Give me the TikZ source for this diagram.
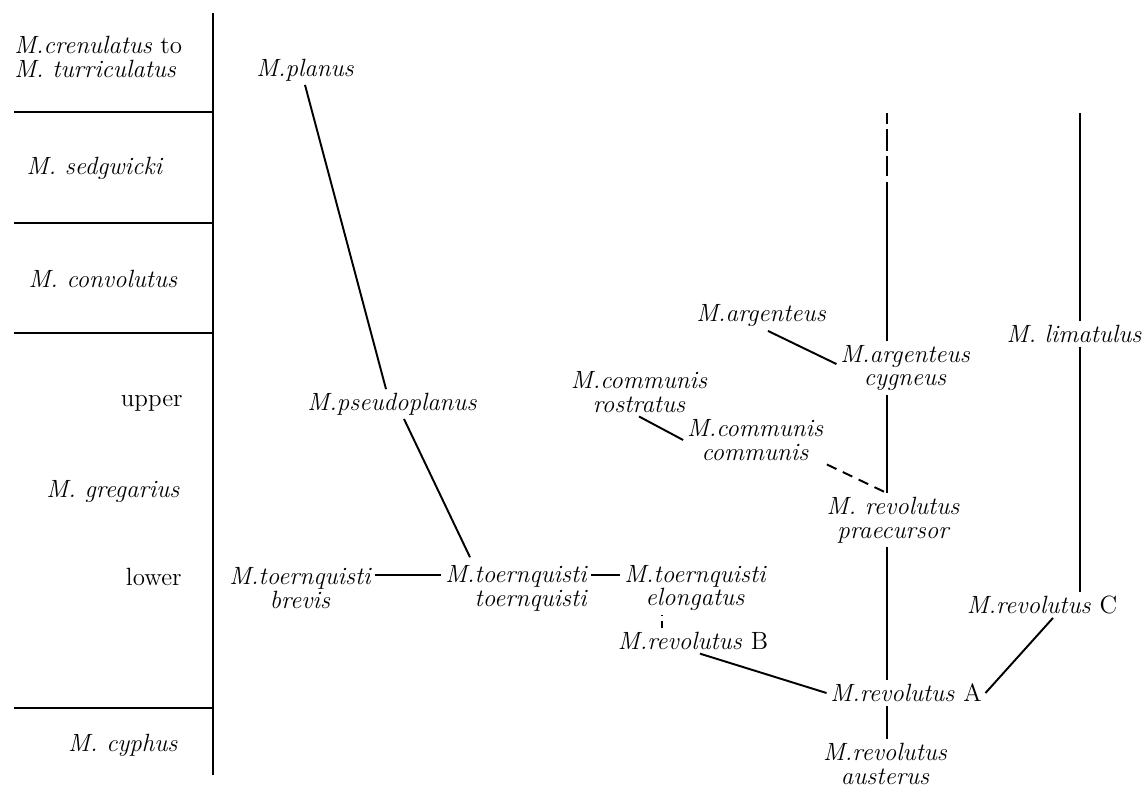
\documentclass[tikz,border=0pt]{standalone}
\usetikzlibrary{positioning,calc}
\begin{document}
\begin{tikzpicture}[x=0.02cm, y=-0.02cm]
    \tikzset{taxon/.style={font=\fontsize{14.2}{13.6}\selectfont\itshape, inner sep=2pt, align=center}}
    \tikzset{zone/.style={font=\fontsize{14.2}{13.6}\selectfont, inner sep=0pt, align=left}}
    \tikzset{link/.style={line width=1.1pt}}
    \tikzset{guess/.style={line width=1.1pt, dash pattern=on 6pt off 4pt}}

    \useasboundingbox (0,0) rectangle (1142,788);

    % Zone column
    \draw[link] (213,13) -- (213,775);
    \foreach \y in {112,223,333,708} \draw[link] (14,\y) -- (213,\y);
    \node[zone, anchor=west] (crenulatus) at (14,57) {\textit{M.crenulatus} to\\\textit{M. turriculatus}};
    \node[zone] (sedgwicki) at (95,168) {\textit{M. sedgwicki}};
    \node[zone] (convolutus) at (103,279) {\textit{M. convolutus}};
    \node[zone, anchor=east] (upper) at (183,403) {upper};
    \node[zone, anchor=east] (gregarius) at (180,492) {\textit{M. gregarius}};
    \node[zone, anchor=east] (lower) at (182,577) {lower};
    \node[zone, anchor=east] (cyphus) at (178,745) {\textit{M. cyphus}};

    % Planus line
    \node[taxon] (planus) at (305,70) {M.planus};
    \node[taxon] (pseudo) at (392,404) {M.pseudoplanus};
    \node[taxon] (brevis) at (300,588) {M.toernquisti\\brevis};
    \node[taxon, align=right] (tt) at (516,588) {M.toernquisti\\toernquisti};
    \node[taxon] (elong) at (695,588) {M.toernquisti\\elongatus};
    \node[taxon] (revB) at (693,641) {M.revolutus \textup{B}};

    % Revolutus lines
    \node[taxon] (argenteus) at (761,316) {M.argenteus};
    \node[taxon] (cygneus) at (905,368) {M.argenteus\\cygneus};
    \node[taxon] (rostratus) at (639,392) {M.communis\\rostratus};
    \node[taxon] (communis) at (755,440) {M.communis\\communis};
    \node[taxon] (praecursor) at (893,520) {M. revolutus\\praecursor};
    \node[taxon] (revA) at (906,693) {M.revolutus \textup{A}};
    \node[taxon] (austerus) at (885,764) {M.revolutus\\austerus};
    \node[taxon] (limatulus) at (1074,334) {M. limatulus};
    \node[taxon] (revC) at (1042,605) {M.revolutus \textup{C}};
    \coordinate (topB) at (887,113);
    \coordinate (dashB) at (887,176);
    \coordinate (topC) at (1080,113);

    % Links
    \draw[link] (planus.south) -- ([xshift=-0.12cm]pseudo.north);
    \draw[link] ([xshift=0.24cm]pseudo.south) -- ([xshift=-0.92cm, yshift=0.08cm]tt.north);
    \draw[link] ([yshift=0.26cm]brevis.east) -- ([yshift=0.26cm]tt.west);
    \draw[link] ([yshift=0.26cm]tt.east) -- ([yshift=0.26cm]elong.west);
    \draw[line width=1.1pt, dash pattern=on 4pt off 3pt] ([xshift=-0.62cm]revB.north) -- ([xshift=-0.62cm]revB.north |- elong.south);
    \draw[link] ([xshift=0.14cm]revB.south) -- (revA.west);
    \draw[link] (revA.east) -- ([xshift=0.22cm]revC.south);

    \draw[link] ([xshift=0.14cm]argenteus.south) -- ([yshift=0.08cm]cygneus.west);
    \draw[link] (rostratus.south) -- (communis.west);
    \draw[guess] (communis.south east) -- (topB |- praecursor.north);

    \draw[line width=1.1pt, dash pattern=on 0.22cm off 0.1cm on 0.44cm off 0.1cm on 0.4cm off 0.1cm] (topB) -- (dashB);
    \draw[link] ([yshift=-0.12cm]dashB) -- (topB |- cygneus.north);
    \draw[link] (topB |- cygneus.south) -- (topB |- praecursor.north);
    \draw[link] (topB |- praecursor.south) -- (topB |- revA.north);
    \draw[link] (topB |- revA.south) -- (topB |- austerus.north);

    \draw[link] (topC) -- (topC |- limatulus.north);
    \draw[link] (topC |- limatulus.south) -- (topC |- revC.north);
\end{tikzpicture}
\end{document}
